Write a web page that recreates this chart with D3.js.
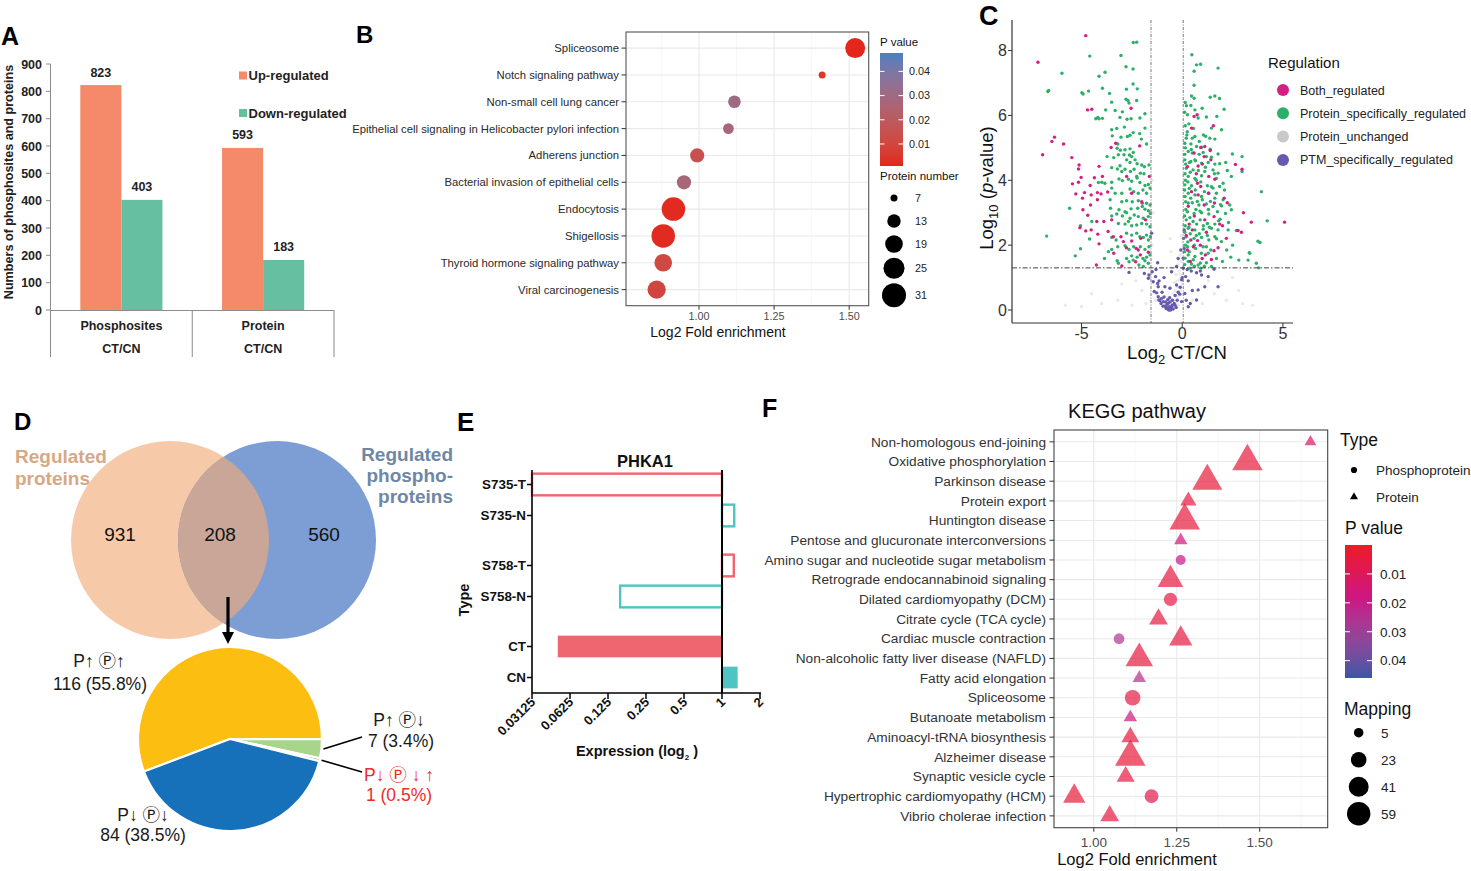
<!DOCTYPE html>
<html><head><meta charset="utf-8">
<script src="https://cdn.jsdelivr.net/npm/d3@7/dist/d3.min.js"></script>
<style>body{margin:0;background:#fff}</style>
</head><body><svg id="c" width="1471" height="871"></svg>
<script>
// ================= DATA =================
// Panel A
const aCategories = ["Phosphosites", "Protein"];
const aSeries = ["Up-regulated", "Down-regulated"];
const aUp = [823, 593];
const aDown = [403, 183];
const aYTicks = [0, 100, 200, 300, 400, 500, 600, 700, 800, 900];
const aSub = "CT/CN";

// Panel B
const bPathways = ["Spliceosome", "Notch signaling pathway", "Non-small cell lung cancer",
  "Epithelial cell signaling in Helicobacter pylori infection", "Adherens junction",
  "Bacterial invasion of epithelial cells", "Endocytosis", "Shigellosis",
  "Thyroid hormone signaling pathway", "Viral carcinogenesis"];
const bFold = [1.52, 1.41, 1.118, 1.098, 0.994, 0.95, 0.915, 0.881, 0.881, 0.859];
const bCount = [23, 7, 12, 10, 14, 14, 30, 30, 19, 20];
const bPval = [0.001, 0.005, 0.030, 0.027, 0.015, 0.027, 0.002, 0.002, 0.011, 0.010];
const bXTicks = [1.00, 1.25, 1.50];
const bPTicks = [0.01, 0.02, 0.03, 0.04];
const bSizeBreaks = [7, 13, 19, 25, 31];

// Panel C (volcano) : [log2 CT/CN, -log10 p]
const cBoth = [[-4.79,8.46],[-7.16,7.64],[-6.34,5.33],[-6.47,5.20],[-5.89,5.12],[-6.93,4.79],[-5.48,4.70],[-5.12,4.47],[-5.15,4.35],[-4.13,4.43],[-5.02,4.09],[-5.45,3.89],[-5.15,3.94],[-4.57,3.84],[-4.36,4.08],[-3.96,4.12],[-3.53,5.01],[-3.30,5.14],[-2.11,5.06],[-2.54,6.22],[-4.49,6.19],[-4.70,6.17],[-5.28,3.58],[-4.85,3.62],[-4.95,3.45],[-4.52,3.55],[-4.21,3.62],[-4.03,3.58],[-4.21,3.40],[-3.70,3.64],[-4.55,3.24],[-4.93,3.09],[-4.69,2.92],[-5.08,2.54],[-4.52,2.47],[-4.79,2.44],[-4.24,2.73],[-3.89,2.73],[-3.50,2.78],[-3.68,2.42],[-4.19,2.34],[-4.13,2.04],[-3.42,2.26],[-3.04,2.26],[-2.92,2.11],[-2.51,2.13],[-2.28,1.90],[-2.18,1.85],[-2.77,1.92],[-4.26,1.39],[-3.40,1.75],[-3.00,1.36],[-2.08,1.70],[-1.63,4.12],[-1.82,2.78],[-1.68,1.78],[-2.06,2.21],[-2.31,1.49],[-2.76,4.12],[-2.51,3.60],[-2.01,3.34],
[0.59,5.97],[0.74,6.02],[0.46,5.61],[1.55,5.68],[0.92,5.01],[1.12,5.04],[1.39,4.92],[0.59,4.84],[1.09,4.73],[1.42,4.63],[0.26,4.42],[0.79,4.44],[1.32,4.12],[1.62,4.03],[2.64,4.49],[2.97,4.34],[0.76,3.91],[0.92,3.81],[0.46,3.65],[0.79,3.55],[2.08,3.45],[2.24,3.31],[1.09,3.24],[3.04,3.00],[3.43,2.71],[5.08,2.71],[0.50,2.47],[1.12,2.78],[1.58,2.88],[1.86,2.65],[0.43,2.16],[0.76,2.14],[2.19,2.21],[2.77,2.45],[2.94,2.40],[1.78,1.92],[1.58,1.83],[0.26,1.85],[1.45,1.56],[0.99,1.59],[0.30,3.20],[0.60,2.90],[0.20,2.30],[0.90,2.00],[1.20,2.40],[0.40,1.50],[1.30,3.60],[0.70,4.20],[1.00,4.50],[1.60,3.30],[2.00,2.60],[0.55,1.95],[1.15,1.70],[0.35,2.65]];
const cProt = [[-2.43,8.25],[-2.26,8.26],[-4.59,7.83],[-3.04,7.85],[-5.97,7.30],[-3.83,7.33],[-4.13,7.21],[-2.79,7.50],[-2.44,7.43],[-6.67,6.74],[-4.98,6.70],[-4.92,6.66],[-4.65,6.75],[-3.96,6.84],[-3.61,6.68],[-2.77,6.81],[-2.44,6.97],[-2.23,6.82],[-3.50,6.41],[-2.79,6.50],[-2.69,6.46],[-2.64,6.38],[-2.26,6.46],[-3.80,6.17],[-3.33,6.15],[-3.09,5.94],[-2.97,6.11],[-2.74,5.88],[-2.54,5.90],[-2.10,5.92],[-1.85,6.05],[-4.29,5.90],[-4.19,5.94],[-4.13,5.90],[-3.96,5.91],[-3.50,5.56],[-3.25,5.60],[-2.87,5.64],[-2.43,5.47],[-2.11,5.44],[-1.85,5.61],[-3.47,5.37],[-3.04,5.33],[-2.72,5.35],[-2.59,5.39],[-2.03,5.27],[-3.20,5.12],[-3.23,4.99],[-3.07,4.93],[-2.84,4.94],[-2.59,4.97],[-2.43,4.86],[-1.77,5.12],[-3.73,4.73],[-3.40,4.70],[-3.17,4.79],[-2.89,4.79],[-2.62,4.78],[-2.51,4.73],[-2.76,4.63],[-2.59,4.55],[-2.34,4.63],[-2.24,4.51],[-2.01,4.47],[-1.88,4.42],[-1.65,4.47],[-3.50,4.39],[-3.22,4.35],[-3.09,4.45],[-3.00,4.27],[-2.84,4.34],[-2.57,4.27],[-2.39,4.34],[-2.26,4.12],[-2.08,4.22],[-1.90,4.20],[-4.16,3.93],[-3.99,3.94],[-3.84,3.91],[-3.50,3.94],[-3.14,4.04],[-2.97,3.99],[-2.67,4.03],[-2.51,3.97],[-2.24,4.07],[-2.10,3.93],[-1.85,3.84],[-1.68,3.87],[-3.50,3.76],[-3.33,3.60],[-3.00,3.60],[-2.59,3.73],[-2.41,3.65],[-2.18,3.60],[-1.95,3.70],[-1.77,3.60],[-1.60,3.76],[-3.58,3.40],[-3.00,3.34],[-2.76,3.37],[-2.48,3.34],[-2.18,3.37],[-1.98,3.29],[-1.77,3.29],[-1.60,3.24],[-5.59,3.14],[-3.56,3.14],[-3.14,3.09],[-2.84,3.03],[-2.54,3.12],[-2.21,3.14],[-1.98,3.19],[-1.85,3.11],[-1.68,3.06],[-4.49,2.73],[-3.50,2.90],[-3.25,2.96],[-2.97,2.90],[-2.76,3.00],[-2.59,2.83],[-2.38,2.93],[-2.18,2.88],[-1.93,2.83],[-1.68,2.88],[-1.58,2.98],[-5.05,2.60],[-3.17,2.67],[-2.84,2.65],[-2.67,2.73],[-2.51,2.60],[-2.26,2.62],[-2.01,2.67],[-1.77,2.65],[-1.60,2.57],[-6.73,2.28],[-4.60,2.19],[-3.50,2.24],[-3.28,2.16],[-2.76,2.37],[-2.51,2.31],[-2.26,2.37],[-2.10,2.26],[-1.93,2.24],[-1.77,2.31],[-1.68,2.16],[-1.58,2.26],[-5.05,1.89],[-3.66,1.80],[-3.50,1.87],[-3.20,1.95],[-2.84,1.98],[-2.64,1.87],[-2.41,1.95],[-2.08,1.95],[-1.85,1.87],[-1.65,1.95],[-5.31,1.67],[-3.86,1.59],[-3.23,1.52],[-2.76,1.59],[-2.51,1.67],[-2.24,1.63],[-1.95,1.59],[-1.77,1.63],[-1.60,1.70],[-3.17,1.44],[-2.64,1.49],[-1.85,1.52],[-1.68,1.44],[-1.93,1.34],[-2.15,1.39],[-2.43,1.54],[-6.63,6.77],
[0.48,7.87],[0.59,7.36],[0.71,7.56],[0.91,7.58],[1.78,7.46],[0.59,6.93],[0.46,6.60],[0.59,6.53],[1.39,6.56],[1.62,6.60],[1.85,6.52],[0.21,6.30],[0.43,6.31],[0.63,6.17],[0.99,6.22],[2.08,6.19],[0.26,6.02],[0.79,5.92],[1.20,5.95],[1.72,5.97],[0.15,5.68],[0.33,5.74],[0.56,5.60],[1.45,5.61],[1.95,5.56],[0.23,5.40],[0.63,5.35],[1.16,5.36],[1.37,5.30],[1.62,5.27],[0.13,5.14],[0.43,5.12],[0.71,5.04],[0.96,5.02],[1.39,4.96],[0.30,4.89],[0.50,4.84],[0.84,4.80],[1.04,4.86],[1.20,4.73],[1.45,4.71],[1.78,4.81],[2.49,4.81],[2.97,4.73],[0.13,4.63],[0.43,4.58],[0.63,4.63],[0.96,4.53],[1.29,4.55],[1.62,4.50],[1.86,4.51],[2.16,4.55],[0.20,4.37],[0.54,4.32],[1.12,4.27],[1.53,4.32],[1.78,4.22],[2.24,4.30],[2.97,4.27],[0.30,4.12],[0.63,4.06],[0.96,4.14],[1.70,4.06],[2.03,3.91],[2.44,4.12],[0.13,3.86],[0.46,3.83],[1.25,3.83],[1.53,3.76],[1.86,3.81],[0.30,3.60],[0.63,3.55],[0.96,3.50],[1.32,3.60],[1.62,3.45],[2.03,3.40],[3.93,3.65],[0.17,3.34],[0.50,3.31],[0.83,3.24],[1.20,3.27],[1.53,3.19],[1.95,3.21],[2.36,3.24],[0.26,3.03],[0.59,2.98],[0.96,3.00],[1.32,2.96],[1.75,3.03],[2.15,2.98],[2.44,3.09],[0.20,2.78],[0.54,2.73],[0.89,2.78],[1.25,2.67],[1.62,2.65],[1.88,2.80],[4.22,2.75],[0.30,2.52],[0.63,2.47],[1.04,2.49],[1.45,2.52],[1.78,2.47],[2.28,2.47],[2.69,2.45],[0.20,2.26],[0.59,2.21],[0.96,2.24],[1.32,2.16],[1.62,2.26],[1.95,2.11],[3.76,2.12],[3.86,2.08],[0.26,1.95],[0.66,1.90],[1.04,1.95],[1.42,1.85],[2.21,1.85],[0.30,1.70],[0.63,1.65],[1.29,1.75],[1.70,1.59],[2.41,1.63],[2.81,1.54],[3.33,1.77],[0.46,1.42],[0.79,1.39],[1.20,1.46],[1.45,1.34],[3.27,1.54],[3.80,1.30],[0.38,1.29],[0.92,1.29],[3.68,1.44],[3.35,1.75],
[0.12,1.40],[0.14,1.60],[0.12,1.80],[0.16,2.00],[0.13,2.40],[0.15,2.60],[0.12,2.90],[0.18,3.10],[0.14,3.50],[0.12,3.70],[0.16,4.00],[0.14,4.20],[0.17,4.50],[0.13,4.80],[0.16,5.00],[0.20,5.30],[0.25,5.50],[0.12,6.10],[0.15,6.40],[0.30,1.50],[0.35,1.80],[0.28,2.10],[0.40,2.35],[0.33,2.55],[0.38,2.85],[0.30,3.30],[0.42,3.45],[0.35,3.75],[0.28,3.95],[0.40,4.25],[0.36,4.55],[0.45,4.95],[0.50,5.30],[0.55,1.55],[0.60,2.00],[0.70,2.30],[0.72,2.65],[0.68,3.10],[0.75,3.35],[0.65,3.70],[0.70,4.00],[0.80,4.30],[0.66,4.60],[0.85,5.20],[0.90,1.45],[0.95,1.75],[0.85,2.35],[1.05,2.60],[0.88,3.05],[1.00,3.40],[1.10,3.65],[0.92,3.95],[1.15,4.40],[1.05,5.40],[1.20,1.95],[1.25,2.30],[1.35,2.55],[1.30,3.10],[1.40,3.35],[1.45,3.80],[1.60,4.20],[1.70,2.20],[1.80,2.75],[1.90,3.25],[1.70,3.60],[2.10,3.70],[2.30,2.70],[2.50,2.00],[2.00,1.50],[1.10,1.35],[0.60,1.35]];
const cUnch = [[-0.2,0.4],[-0.1,0.6],[0,0.8],[-0.3,0.2],[-0.25,0.9],[-0.15,1.2],[-0.05,1.5],[0.0,1.8],[0.02,2.1],[-0.35,0.6],[-0.45,0.5],[-0.4,0.85],[-0.3,1.1],[-0.2,1.4],[-0.1,1.7],[-0.05,2.3],[0.05,2.6],[-0.6,0.7],[-0.7,0.4],[-0.9,0.2],[-1.3,0.3],[-1.8,0.2],[-2.5,0.15],[-3.2,0.3],[-4.0,0.2],[-5.0,0.1],[-5.8,0.15],[-2.0,0.6],[-3.0,0.8],[-1.6,1.0],[-1.5,2.0],[-1.45,3.0],[-1.5,4.0],[0.5,0.3],[1.0,0.2],[1.6,0.5],[2.2,0.3],[3.0,0.2],[3.5,0.15],[2.8,0.6],[-0.5,1.3],[-0.55,1.8],[-0.6,2.2],[-1.0,1.3],[-0.12,0.95],[-0.22,0.7],[-0.08,1.1],[-0.18,0.15],[-2.3,0.9],[-4.5,0.5],[1.3,0.9],[2.5,1.0]];
const cPTM = [[-2.64,1.16],[-1.88,1.13],[-1.65,1.08],[-1.49,1.18],[-1.68,0.98],[-1.32,1.03],[-1.44,0.87],[-1.22,0.82],[-1.19,0.72],[-1.27,0.53],[-1.19,0.41],[-1.11,0.29],[-1.22,1.46],[-1.52,2.37],[0.10,2.47],[0.07,2.21],[-0.07,1.85],[-0.20,1.59],[-0.28,1.34],[0.05,1.29],[-0.53,1.18],[0.71,1.15],[0.96,1.08],[1.29,1.03],[1.58,1.26],[0.17,1.03],[-0.03,0.93],[-0.28,0.77],[-0.61,0.67],[-0.86,0.72],[-1.15,0.90],[-1.39,0.57],[-1.02,0.36],[-0.69,0.21],[-0.53,0.10],[-0.36,0.15],[-0.03,0.26],[0.13,0.51],[-0.12,0.49],[0.30,0.10],[-0.78,0.08],[-0.94,0.26],[-1.16,0.31],[0.71,0.31],[0.79,0.62],[1.12,0.72],[1.78,0.72],[-0.85,0.12],[-0.80,0.05],[-0.75,0.18],[-0.70,0.02],[-0.65,0.10],[-0.60,0.25],[-0.55,0.05],[-0.50,0.15],[-0.45,0.03],[-0.40,0.20],[-0.72,0.32],[-0.90,0.40],[-0.62,0.38],[-0.48,0.30],[-0.35,0.45],[-0.20,0.55],[-0.10,0.70],[0.00,1.00],[0.05,1.60],[0.10,1.90],[-1.00,0.55],[-1.05,0.20],[-0.30,0.08],[-0.25,0.30],[0.20,0.30],[0.40,0.20],[0.50,0.60],[0.30,0.90],[-1.30,1.25],[-0.90,1.00],[0.45,1.20],[0.25,1.25],[0.90,1.20],[-0.66,0.00],[-0.58,0.00],[-0.82,0.25],[-0.95,0.12]];
const cGroups = ["Both_regulated", "Protein_specifically_regulated", "Protein_unchanged", "PTM_specifically_regulated"];
const cXTicks = [-5, 0, 5];
const cYTicks = [0, 2, 4, 6, 8];
const cThreshX = [-1.55, 0.05];
const cThreshY = 1.3;

// Panel D
const dSetLeft = ["Regulated", "proteins"];
const dSetRight = ["Regulated", "phospho-", "proteins"];
const dVennCounts = [931, 208, 560];
const dPieCounts = [116, 7, 1, 84];
const dPieNames = ["P\u2191 \u24C5\u2191", "P\u2191 \u24C5\u2193", "P\u2193 \u24C5 \u2193 \u2191", "P\u2193 \u24C5\u2193"];
const dPiePct = ["55.8%", "3.4%", "0.5%", "38.5%"];

// Panel E
const eTitle = "PHKA1";
const eLabels = ["S735-T", "S735-N", "S758-T", "S758-N", "CT", "CN"];
const eGroups = ["S735", "S735", "S758", "S758", "C", "C"];
const eValues = [0.02, 1.25, 1.24, 0.156, 0.05, 1.33];
const eFilled = [false, false, false, false, true, true];
const eXTicks = [0.03125, 0.0625, 0.125, 0.25, 0.5, 1, 2];

// Panel F
const fPathways = ["Non-homologous end-joining", "Oxidative phosphorylation", "Parkinson disease", "Protein export",
  "Huntington disease", "Pentose and glucuronate interconversions", "Amino sugar and nucleotide sugar metabolism",
  "Retrograde endocannabinoid signaling", "Dilated cardiomyopathy (DCM)", "Citrate cycle (TCA cycle)",
  "Cardiac muscle contraction", "Non-alcoholic fatty liver disease (NAFLD)", "Fatty acid elongation", "Spliceosome",
  "Butanoate metabolism", "Aminoacyl-tRNA biosynthesis", "Alzheimer disease", "Synaptic vesicle cycle",
  "Hypertrophic cardiomyopathy (HCM)", "Vibrio cholerae infection"];
const fRow     = [0, 1, 2, 3, 4, 5, 6, 7, 8, 9, 10, 10, 11, 12, 13, 14, 15, 16, 17, 18, 18, 19];
const fType    = ["Protein","Protein","Protein","Protein","Protein","Protein","Phosphoprotein","Protein","Phosphoprotein","Protein","Phosphoprotein","Protein","Protein","Protein","Phosphoprotein","Protein","Protein","Protein","Protein","Phosphoprotein","Protein","Protein"];
const fFold    = [1.653, 1.463, 1.342, 1.285, 1.274, 1.262, 1.262, 1.231, 1.231, 1.195, 1.076, 1.262, 1.137, 1.137, 1.117, 1.110, 1.110, 1.110, 1.096, 1.174, 0.941, 1.048];
const fMapping = [4, 59, 57, 13, 59, 7, 6, 40, 15, 19, 8, 32, 47, 7, 23, 7, 17, 59, 17, 17, 29, 19];
const fPval    = [0.012, 0.004, 0.004, 0.005, 0.004, 0.017, 0.020, 0.005, 0.006, 0.005, 0.026, 0.005, 0.005, 0.024, 0.006, 0.018, 0.005, 0.004, 0.005, 0.008, 0.004, 0.005];
const fXTicks = [1.00, 1.25, 1.50];
const fPTicks = [0.01, 0.02, 0.03, 0.04];
const fSizeBreaks = [5, 23, 41, 59];
const fTypes = ["Phosphoprotein", "Protein"];

// ================= DRAWING =================
const FONT = '"Liberation Sans", Arial, "DejaVu Sans", "Noto Sans CJK SC", sans-serif';
const svg = d3.select("#c");
svg.append("rect").attr("width", 1471).attr("height", 871).attr("fill", "#fff");
const defs = svg.append("defs");

function T(g, x, y, t, size, o = {}) {
  const el = g.append("text").attr("x", x).attr("y", y).text(t)
    .attr("font-size", size).attr("font-family", FONT)
    .attr("font-weight", o.bold ? "bold" : "normal")
    .attr("fill", o.fill || "#000")
    .attr("text-anchor", o.anchor || "start");
  if (o.rotate != null) el.attr("transform", `rotate(${o.rotate},${x},${y})`);
  return el;
}
function L(g, x1, y1, x2, y2, stroke, w, dash) {
  const l = g.append("line").attr("x1", x1).attr("y1", y1).attr("x2", x2).attr("y2", y2)
    .attr("stroke", stroke).attr("stroke-width", w);
  if (dash) l.attr("stroke-dasharray", dash);
  return l;
}

// panel letters
T(svg, 1, 45, "A", 25, {bold: true});
T(svg, 356, 43, "B", 24, {bold: true});
T(svg, 979, 25, "C", 27, {bold: true});
T(svg, 14, 430, "D", 24, {bold: true});
T(svg, 457, 431, "E", 26, {bold: true});
T(svg, 762, 417, "F", 25, {bold: true});

// ---------- Panel A ----------
(function () {
  const g = svg.append("g");
  const y = d3.scaleLinear().domain([0, 900]).range([310, 64]);
  const x = d3.scaleBand().domain(aCategories).range([50.5, 334]);
  const xi = d3.scaleBand().domain(aSeries).range([0, x.bandwidth()]).paddingOuter(0.726);
  const col = d3.scaleOrdinal().domain(aSeries).range(["#F48A69", "#67BFA1"]);
  const grey = "#8c8c8c";
  L(g, 50.5, y(900), 50.5, y(0), grey, 1);
  aYTicks.forEach(t => {
    L(g, 46, y(t), 50.5, y(t), grey, 1);
    T(g, 42, y(t) + 4.5, t, 12.5, {bold: true, anchor: "end", fill: "#222"});
  });
  const rows = [];
  aCategories.forEach((c, i) => { rows.push({c, s: aSeries[0], v: aUp[i]}); rows.push({c, s: aSeries[1], v: aDown[i]}); });
  g.selectAll("rect.bar").data(rows).join("rect").attr("class", "bar")
    .attr("x", d => x(d.c) + xi(d.s)).attr("width", xi.bandwidth())
    .attr("y", d => y(d.v)).attr("height", d => y(0) - y(d.v)).attr("fill", d => col(d.s));
  rows.forEach(d => T(g, x(d.c) + xi(d.s) + xi.bandwidth() / 2, y(d.v) - 8.5, d.v, 12.5, {bold: true, anchor: "middle", fill: "#222"}));
  L(g, 50.5, 310.5, 334, 310.5, grey, 1);
  [x(aCategories[0]), x(aCategories[1]), 334].forEach(xx => L(g, xx, 310, xx, 357, grey, 1));
  aCategories.forEach(c => {
    T(g, x(c) + x.bandwidth() / 2, 330, c, 12.5, {bold: true, anchor: "middle", fill: "#222"});
    T(g, x(c) + x.bandwidth() / 2, 353, aSub, 12.5, {bold: true, anchor: "middle", fill: "#222"});
  });
  aSeries.forEach((s, i) => {
    g.append("rect").attr("x", 239).attr("y", 71.5 + i * 37.5).attr("width", 8).attr("height", 8).attr("fill", col(s));
    T(g, 248.5, 80 + i * 37.5, s, 13, {bold: true, fill: "#222"});
  });
  T(g, 12.5, 182, "Numbers of phosphosites and proteins", 12.6, {bold: true, anchor: "middle", rotate: -90, fill: "#222"});
})();

// ---------- Panel B ----------
(function () {
  const g = svg.append("g");
  const X0 = 626, X1 = 868.7, Y0 = 32, Y1 = 305.7;
  const x = d3.scaleLinear().domain([0.757, 1.565]).range([X0, X1]);
  const y = d3.scalePoint().domain(bPathways).range([Y0, Y1]).padding(0.6);
  const area = d3.scaleLinear().domain([7, 31]).range([12.25, 144]);
  const rad = v => Math.sqrt(area(v));
  const col = d3.scaleLinear().domain([0.0009, 0.0476]).range(["#E3261D", "#4A7FC2"]).interpolate(d3.interpolateLab);
  [0.875, 1.125, 1.375].forEach(v => L(g, x(v), Y0, x(v), Y1, "#F3F3F3", 0.7));
  bXTicks.forEach(v => L(g, x(v), Y0, x(v), Y1, "#E9E9E9", 1.1));
  bPathways.forEach(p => L(g, X0, y(p), X1, y(p), "#E9E9E9", 1.1));
  g.append("rect").attr("x", X0).attr("y", Y0).attr("width", X1 - X0).attr("height", Y1 - Y0)
    .attr("fill", "none").attr("stroke", "#555").attr("stroke-width", 1.1);
  g.selectAll("circle.pt").data(bPathways).join("circle").attr("class", "pt")
    .attr("cx", (d, i) => x(bFold[i])).attr("cy", d => y(d))
    .attr("r", (d, i) => rad(bCount[i])).attr("fill", (d, i) => col(bPval[i]));
  bPathways.forEach(p => {
    L(g, X0 - 4.5, y(p), X0, y(p), "#333", 1);
    T(g, X0 - 7, y(p) + 4, p, 11.3, {anchor: "end", fill: "#2a2a2a"});
  });
  bXTicks.forEach(v => {
    L(g, x(v), Y1, x(v), Y1 + 4, "#333", 1);
    T(g, x(v), Y1 + 14.5, v.toFixed(2), 10.8, {anchor: "middle", fill: "#4d4d4d"});
  });
  T(g, 718, 337, "Log2 Fold enrichment", 14, {anchor: "middle", fill: "#111"});
  const cb = {x: 880, y: 53, w: 23, h: 113};
  const pY = d3.scaleLinear().domain([0.0009, 0.0476]).range([cb.y + cb.h, cb.y]);
  const grad = defs.append("linearGradient").attr("id", "gB").attr("x1", 0).attr("y1", 1).attr("x2", 0).attr("y2", 0);
  d3.range(0, 1.0001, 0.1).forEach(t => grad.append("stop").attr("offset", t).attr("stop-color", col(0.0009 + t * (0.0476 - 0.0009))));
  g.append("rect").attr("x", cb.x).attr("y", cb.y).attr("width", cb.w).attr("height", cb.h).attr("fill", "url(#gB)");
  bPTicks.forEach(t => {
    L(g, cb.x, pY(t), cb.x + 4.5, pY(t), "#fff", 1);
    L(g, cb.x + cb.w - 4.5, pY(t), cb.x + cb.w, pY(t), "#fff", 1);
    T(g, cb.x + cb.w + 6, pY(t) + 3.8, t.toFixed(2), 10.8, {fill: "#222"});
  });
  T(g, 880, 46, "P value", 11.5, {fill: "#111"});
  T(g, 880, 180, "Protein number", 11.5, {fill: "#111"});
  let yy = 186.5;
  bSizeBreaks.forEach(v => {
    const r = rad(v), h = Math.max(23, 2 * r + 4.5);
    g.append("circle").attr("cx", 894).attr("cy", yy + h / 2).attr("r", r).attr("fill", "#000");
    T(g, 915, yy + h / 2 + 4, v, 10.8, {fill: "#222"});
    yy += h;
  });
})();

// ---------- Panel C ----------
(function () {
  const g = svg.append("g");
  const X0 = 1012, X1 = 1293, Y0 = 23, Y1 = 323;
  const x = d3.scaleLinear().domain([-8.45, 5.5]).range([X0, X1]);
  const y = d3.scaleLinear().domain([-0.4, 8.85]).range([Y1, Y0]);
  const col = d3.scaleOrdinal().domain(cGroups).range(["#D21F83", "#2CB067", "#C9C9C9", "#6659AE"]);
  const sets = [[cUnch, cGroups[2], 0.4], [cPTM, cGroups[3], 1], [cProt, cGroups[1], 1], [cBoth, cGroups[0], 1]];
  sets.forEach(([data, grp, op]) => {
    g.append("g").selectAll("circle").data(data).join("circle")
      .attr("cx", d => x(d[0])).attr("cy", d => y(d[1])).attr("r", 1.7)
      .attr("fill", col(grp)).attr("opacity", op);
  });
  cThreshX.forEach(v => L(g, x(v), Y0 - 3, x(v), Y1, "#777", 1, "3,1.5,1,1.5"));
  L(g, X0, y(cThreshY), X1, y(cThreshY), "#444", 1, "5,2,1.5,2");
  L(g, X0, Y0 - 3, X0, Y1, "#333", 1.2);
  L(g, X0, Y1, X1, Y1, "#333", 1.2);
  cYTicks.forEach(t => {
    L(g, X0 - 4, y(t), X0, y(t), "#333", 1);
    T(g, X0 - 5, y(t) + 5.5, t, 16, {anchor: "end", fill: "#333"});
  });
  cXTicks.forEach(t => {
    L(g, x(t), Y1, x(t), Y1 + 4, "#333", 1);
    T(g, x(t), 339, t, 16, {anchor: "middle", fill: "#333"});
  });
  const xt = g.append("text").attr("x", 1177).attr("y", 359).attr("text-anchor", "middle")
    .attr("font-family", FONT).attr("font-size", 18.5).attr("fill", "#111");
  xt.append("tspan").text("Log");
  xt.append("tspan").text("2").attr("font-size", 13).attr("dy", 5);
  xt.append("tspan").text(" CT/CN").attr("dy", -5);
  const yt = g.append("text").attr("x", 993).attr("y", 188).attr("text-anchor", "middle")
    .attr("transform", "rotate(-90,993,188)")
    .attr("font-family", FONT).attr("font-size", 18.5).attr("fill", "#111");
  yt.append("tspan").text("Log");
  yt.append("tspan").text("10").attr("font-size", 13).attr("dy", 5);
  yt.append("tspan").text(" (").attr("dy", -5);
  yt.append("tspan").text("p").attr("font-style", "italic");
  yt.append("tspan").text("-value)");
  T(g, 1268, 68, "Regulation", 15, {fill: "#111"});
  cGroups.forEach((grp, i) => {
    const cy = 90 + i * 23.3;
    g.append("circle").attr("cx", 1283).attr("cy", cy).attr("r", 6).attr("fill", col(grp));
    T(g, 1300, cy + 4.5, grp, 12.5, {fill: "#222"});
  });
})();

// ---------- Panel D ----------
(function () {
  const g = svg.append("g");
  const cL = {x: 170, y: 540, r: 99}, cR = {x: 277, y: 540, r: 99};
  g.append("circle").attr("cx", cL.x).attr("cy", cL.y).attr("r", cL.r).attr("fill", "#F6CAA9");
  g.append("circle").attr("cx", cR.x).attr("cy", cR.y).attr("r", cR.r).attr("fill", "#7C9ED4");
  defs.append("clipPath").attr("id", "clipL").append("circle").attr("cx", cL.x).attr("cy", cL.y).attr("r", cL.r);
  g.append("circle").attr("cx", cR.x).attr("cy", cR.y).attr("r", cR.r).attr("fill", "#C9A697").attr("clip-path", "url(#clipL)");
  const nx = [120, 220, 324];
  dVennCounts.forEach((v, i) => T(g, nx[i], 541, v, 19, {anchor: "middle", fill: "#111"}));
  dSetLeft.forEach((s, i) => T(g, 15, 463 + i * 21.5, s, 19, {bold: true, fill: "#D6A886"}));
  dSetRight.forEach((s, i) => T(g, 453, 461 + i * 21, s, 19, {bold: true, anchor: "end", fill: "#6D87A6"}));
  L(g, 228, 597, 228, 634, "#000", 3.2);
  g.append("path").attr("d", "M222,632 L234,632 L228,644 Z").attr("fill", "#000");
  const cx = 230, cy = 739, R = 92;
  const a0 = -110.7 * Math.PI / 180;
  const arcs = d3.pie().sort(null).startAngle(a0).endAngle(a0 + 2 * Math.PI)(dPieCounts);
  const arc = d3.arc().innerRadius(0).outerRadius(R);
  const pcol = ["#FDBE12", "#A8D48C", "#E8262B", "#1670BA"];
  g.append("g").attr("transform", `translate(${cx},${cy})`).selectAll("path").data(arcs).join("path")
    .attr("d", arc).attr("fill", (d, i) => pcol[i]).attr("stroke", "#fff").attr("stroke-width", 2.2);
  const ends = [null, [362, 737], [362, 772], null];
  arcs.forEach((a, i) => {
    if (!ends[i]) return;
    const m = (a.startAngle + a.endAngle) / 2;
    L(g, cx + (R + 2) * Math.sin(m), cy - (R + 2) * Math.cos(m), ends[i][0], ends[i][1], "#000", 1.6);
  });
  const pos = [[99, 667, 100, 690], [399, 726, 401, 747], [399, 781, 399, 801], [143, 821, 143, 841]];
  dPieNames.forEach((n, i) => {
    const f = i === 2 ? "#EE2A2F" : "#1a1a1a";
    T(g, pos[i][0], pos[i][1], n, 17.5, {anchor: "middle", fill: f});
    T(g, pos[i][2], pos[i][3], `${dPieCounts[i]} (${dPiePct[i]})`, 17.5, {anchor: "middle", fill: f});
  });
})();

// ---------- Panel E ----------
(function () {
  const g = svg.append("g");
  const X0 = 532, X1 = 760, Yt = 470, Yb = 693;
  const x = d3.scaleLog().base(2).domain([eXTicks[0], eXTicks[eXTicks.length - 1]]).range([X0, X1]).clamp(true);
  const gy = d3.scaleBand().domain(["S735", "S758", "C"]).range([459.5, 702.5]);
  const iy = d3.scaleBand().domain([0, 1]).range([0, gy.bandwidth()]).paddingInner(0.3).paddingOuter(0.456);
  const red = "#EF6670", teal = "#4FC4C2";
  const rows = eLabels.map((l, i) => ({l, g: eGroups[i], k: i % 2, v: eValues[i], f: eFilled[i], c: (i % 2 === 0) ? red : teal}));
  const yc = d => gy(d.g) + iy(d.k);
  rows.forEach(d => {
    const xa = x(Math.min(d.v, 1)), xb = x(Math.max(d.v, 1));
    const r = g.append("rect").attr("x", xa).attr("y", yc(d)).attr("width", xb - xa).attr("height", iy.bandwidth());
    if (d.f) r.attr("fill", d.c);
    else r.attr("fill", "#fff").attr("stroke", d.c).attr("stroke-width", 2.4);
  });
  L(g, x(1), Yt, x(1), Yb, "#000", 2);
  L(g, X0, Yt, X0, Yb, "#000", 1.6);
  L(g, X0, Yb, X1 + 1, Yb, "#000", 1.6);
  rows.forEach(d => {
    const yy = yc(d) + iy.bandwidth() / 2;
    L(g, X0 - 5, yy, X0, yy, "#000", 1.5);
    T(g, X0 - 6, yy + 4.6, d.l, 13.4, {bold: true, anchor: "end", fill: "#111"});
  });
  eXTicks.forEach(t => {
    L(g, x(t), Yb, x(t), Yb + 6, "#000", 1.5);
    T(g, x(t) + 4, Yb + 10, String(t), 13, {bold: true, anchor: "end", rotate: -45, fill: "#111"});
  });
  T(g, 645, 467, eTitle, 16.5, {bold: true, anchor: "middle", fill: "#111"});
  T(g, 469, 600, "Type", 14.5, {bold: true, anchor: "middle", rotate: -90, fill: "#111"});
  const xt = g.append("text").attr("x", 637).attr("y", 756).attr("text-anchor", "middle")
    .attr("font-family", FONT).attr("font-size", 14.5).attr("font-weight", "bold").attr("fill", "#111");
  xt.append("tspan").text("Expression (log");
  xt.append("tspan").text("2").attr("font-size", 8).attr("dy", 4);
  xt.append("tspan").text(" )").attr("dy", -4);
})();

// ---------- Panel F ----------
(function () {
  const g = svg.append("g");
  const X0 = 1054, X1 = 1327.7, Y0 = 430, Y1 = 827.7;
  const x = d3.scaleLinear().domain([0.88, 1.705]).range([X0, X1]);
  const y = d3.scalePoint().domain(fPathways).range([Y0, Y1]).padding(0.6);
  const area = d3.scaleLinear().domain([2, 60]).range([16, 140]);
  const col = d3.scaleLinear().domain([0, 0.02, 0.046]).range(["#ED1C24", "#C8178A", "#3C55A9"]).interpolate(d3.interpolateLab);
  [1.125, 1.375, 1.625].forEach(v => L(g, x(v), Y0, x(v), Y1, "#F3F3F3", 0.7));
  fXTicks.forEach(v => L(g, x(v), Y0, x(v), Y1, "#E9E9E9", 1.1));
  fPathways.forEach(p => L(g, X0, y(p), X1, y(p), "#E9E9E9", 1.1));
  const sym = (type, a) => d3.symbol().type(type === "Protein" ? d3.symbolTriangle : d3.symbolCircle)
    .size(type === "Protein" ? 2.93 * a : Math.PI * a)();
  g.selectAll("path.pt").data(fRow).join("path").attr("class", "pt")
    .attr("transform", (r, i) => `translate(${x(fFold[i])},${y(fPathways[r])})`)
    .attr("d", (r, i) => sym(fType[i], area(fMapping[i])))
    .attr("fill", (r, i) => col(fPval[i])).attr("fill-opacity", 0.7);
  g.append("rect").attr("x", X0).attr("y", Y0).attr("width", X1 - X0).attr("height", Y1 - Y0)
    .attr("fill", "none").attr("stroke", "#444").attr("stroke-width", 1.1);
  fPathways.forEach(p => {
    L(g, X0 - 4.5, y(p), X0, y(p), "#333", 1);
    T(g, X0 - 8, y(p) + 4.7, p, 13.7, {anchor: "end", fill: "#333"});
  });
  fXTicks.forEach(v => {
    L(g, x(v), Y1, x(v), Y1 + 4, "#333", 1);
    T(g, x(v), 847, v.toFixed(2), 13.5, {anchor: "middle", fill: "#4d4d4d"});
  });
  T(g, 1137, 865, "Log2 Fold enrichment", 16.5, {anchor: "middle", fill: "#111"});
  T(g, 1137, 418, "KEGG pathway", 20, {anchor: "middle", fill: "#111"});
  T(g, 1340, 446, "Type", 17.5, {fill: "#111"});
  fTypes.forEach((t, i) => {
    const cy = 470 + i * 27;
    g.append("path").attr("transform", `translate(1354,${cy})`).attr("d", sym(t, 9.5)).attr("fill", "#000");
    T(g, 1376, cy + 4.8, t, 13.5, {fill: "#222"});
  });
  T(g, 1345, 534, "P value", 17.5, {fill: "#111"});
  const cb = {x: 1345, y: 545, w: 27, h: 133};
  const pY = d3.scaleLinear().domain([0, 0.046]).range([cb.y, cb.y + cb.h]);
  const grad = defs.append("linearGradient").attr("id", "gF").attr("x1", 0).attr("y1", 0).attr("x2", 0).attr("y2", 1);
  d3.range(0, 1.0001, 0.1).forEach(t => grad.append("stop").attr("offset", t).attr("stop-color", col(t * 0.046)));
  g.append("rect").attr("x", cb.x).attr("y", cb.y).attr("width", cb.w).attr("height", cb.h).attr("fill", "url(#gF)");
  fPTicks.forEach(t => {
    L(g, cb.x, pY(t), cb.x + 5, pY(t), "#fff", 1);
    L(g, cb.x + cb.w - 5, pY(t), cb.x + cb.w, pY(t), "#fff", 1);
    T(g, 1380, pY(t) + 4.8, t.toFixed(2), 13.5, {fill: "#222"});
  });
  T(g, 1344, 715, "Mapping", 17.5, {fill: "#111"});
  let yy = 719.2;
  fSizeBreaks.forEach(v => {
    const h = 27;
    g.append("circle").attr("cx", 1358.7).attr("cy", yy + h / 2).attr("r", Math.sqrt(area(v))).attr("fill", "#000");
    T(g, 1381, yy + h / 2 + 4.8, v, 13.5, {fill: "#222"});
    yy += h;
  });
})();
</script>
</body></html>
